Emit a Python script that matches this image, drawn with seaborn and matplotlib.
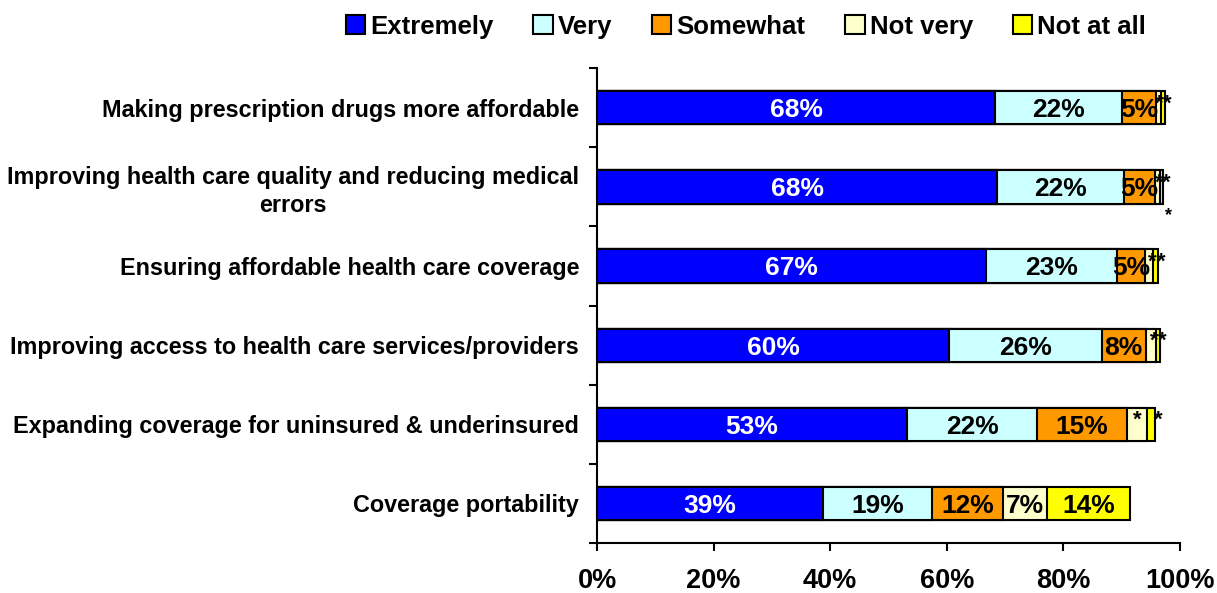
import numpy as np
import pandas as pd
import matplotlib
matplotlib.use("Agg")
import matplotlib.pyplot as plt
import seaborn as sns
from matplotlib.patches import Patch

categories = [
    "Making prescription drugs more affordable",
    "Improving health care quality and reducing medical\nerrors",
    "Ensuring affordable health care coverage",
    "Improving access to health care services/providers",
    "Expanding coverage for uninsured & underinsured",
    "Coverage portability",
]
series = ["Extremely", "Very", "Somewhat", "Not very", "Not at all"]
extremely = [68.3, 68.6, 66.7, 60.4, 53.2, 38.8]
very = [21.8, 21.8, 22.5, 26.2, 22.3, 18.7]
somewhat = [5.7, 5.3, 4.8, 7.5, 15.4, 12.2]
not_very = [0.9, 0.9, 1.4, 1.7, 3.4, 7.5]
not_at_all = [0.7, 0.5, 0.9, 0.7, 1.4, 14.2]
labels_extremely = ["68%", "68%", "67%", "60%", "53%", "39%"]
labels_very = ["22%", "22%", "23%", "26%", "22%", "19%"]
labels_somewhat = ["5%", "5%", "5%", "8%", "15%", "12%"]
labels_not_very = ["*", "*", "*", "*", "*", "7%"]
labels_not_at_all = ["*", "*", "*", "*", "*", "14%"]
colors = ["#0000FF", "#CCFFFF", "#FF9900", "#FFFFCC", "#FFFF00"]

values = [extremely, very, somewhat, not_very, not_at_all]
labels = [labels_extremely, labels_very, labels_somewhat, labels_not_very, labels_not_at_all]

sns.set_theme(style="white")
plt.rcParams["font.family"] = ["Liberation Sans", "DejaVu Sans"]
plt.rcParams["font.weight"] = "bold"
plt.rcParams["text.color"] = "black"
plt.rcParams["xtick.color"] = "black"
plt.rcParams["ytick.color"] = "black"

fig = plt.figure(figsize=(12.17, 5.93), dpi=100)
ax = fig.add_axes([0.4906, 0.0843, 0.479, 0.8007])

cum = np.cumsum(np.array(values), axis=0)
df_rows = []
for i, s in enumerate(series):
    for j, c in enumerate(categories):
        df_rows.append({"category": c, "series": s, "cum": cum[i, j]})
df = pd.DataFrame(df_rows)

for i in reversed(range(len(series))):
    sub = df[df["series"] == series[i]]
    sns.barplot(data=sub, x="cum", y="category", order=categories, color=colors[i],
                orient="h", width=0.42, edgecolor="black", linewidth=1.5,
                saturation=1, ax=ax)

# segment labels
for i in range(len(series)):
    for j in range(len(categories)):
        start = cum[i, j] - values[i][j]
        width = values[i][j]
        lab = labels[i][j]
        if lab == "*":
            if i == 3:
                x = start + width / 2 if width > 2.5 else cum[i, j] - 0.2
                ax.text(x, j - 0.05, "*", ha="center", va="center", fontsize=16,
                        color="black", fontweight="bold")
            else:
                x = cum[i, j] + 0.5
                ax.text(x, j - 0.05, "*", ha="center", va="center", fontsize=16,
                        color="black", fontweight="bold")
        else:
            col = "white" if i == 0 else "black"
            ax.text(start + width / 2, j + 0.03, lab, ha="center", va="center",
                    fontsize=19, color=col, fontweight="bold")
# extra asterisk for row 2
ax.text(cum[4, 1] + 1.0, 1 + 0.36, "*", ha="center", va="center", fontsize=13,
        color="black", fontweight="bold")

ax.set_xlim(0, 100)
ax.set_ylim(len(categories) - 0.5, -0.5)
ax.set_xticks([0, 20, 40, 60, 80, 100])
ax.set_xticklabels(["0%", "20%", "40%", "60%", "80%", "100%"], fontsize=19.5, fontweight="bold")
ax.set_yticks(range(len(categories)))
ax.set_yticklabels(categories, fontsize=16.8, fontweight="bold", multialignment="center",
                   linespacing=1.25)
ax.set_yticks(np.arange(-0.5, len(categories) + 0.5, 1), minor=True)
ax.tick_params(axis="y", which="major", length=0, pad=13)
ax.tick_params(axis="y", which="minor", length=6, width=1.5, color="black", left=True, direction="out")
ax.tick_params(axis="x", which="major", length=6, width=1.5, color="black", bottom=True, direction="out", pad=12)
ax.set_xlabel("")
ax.set_ylabel("")
for sp in ["top", "right"]:
    ax.spines[sp].set_visible(False)
for sp in ["left", "bottom"]:
    ax.spines[sp].set_color("black")
    ax.spines[sp].set_linewidth(1.5)

handles = [Patch(facecolor=colors[i], edgecolor="black", linewidth=1.5, label=series[i])
           for i in range(len(series))]
fig.legend(handles=handles, loc="center", bbox_to_anchor=(0.613, 0.955), ncol=5,
           frameon=False, prop={"size": 18.5, "weight": "bold"},
           handlelength=0.75, handleheight=0.75, handletextpad=0.2, columnspacing=1.55)

fig.savefig("out.png", dpi=100)
